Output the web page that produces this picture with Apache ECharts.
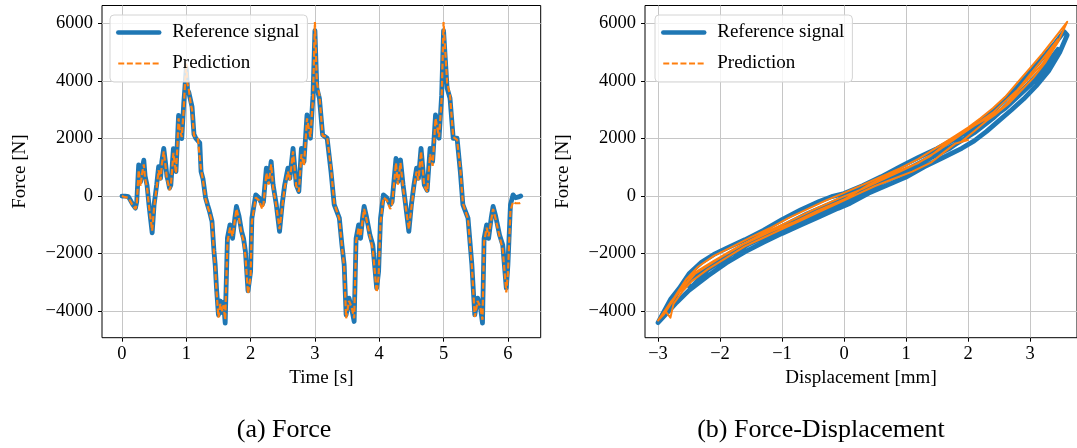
<!DOCTYPE html>
<html>
<head>
<meta charset="utf-8">
<script src="https://cdn.jsdelivr.net/npm/echarts@6/dist/echarts.min.js"></script>
<style>
html, body { margin: 0; padding: 0; background: #fff; }
#chart { width: 1077px; height: 448px; }
</style>
</head>
<body>
<div id="chart"></div>
<script>
// time knots [s]
const timeS = [
  0.00, 0.05, 0.10, 0.13, 0.17, 0.21, 0.23, 0.26, 0.29, 0.31, 0.34, 0.36, 0.39, 0.42, 0.47, 0.50,
  0.54, 0.57, 0.60, 0.62, 0.65, 0.68, 0.70, 0.72, 0.74, 0.76, 0.80, 0.84, 0.86, 0.88, 0.90, 0.93,
  0.96, 0.98, 1.00, 1.02, 1.04, 1.07, 1.09, 1.12, 1.15, 1.18, 1.21, 1.23, 1.26, 1.30, 1.33, 1.36,
  1.40, 1.43, 1.45, 1.47, 1.50, 1.53, 1.56, 1.58, 1.605, 1.64, 1.68, 1.72, 1.755, 1.78, 1.82, 1.86,
  1.89, 1.92, 1.96, 2.00, 2.02, 2.08, 2.13, 2.18, 2.20, 2.245, 2.28, 2.32, 2.35, 2.40, 2.45, 2.49,
  2.53, 2.58, 2.61, 2.66, 2.71, 2.75, 2.79, 2.83, 2.877, 2.93, 2.97, 3.00, 3.03, 3.07, 3.12, 3.19,
  3.25, 3.30, 3.38, 3.42, 3.455, 3.485, 3.53, 3.57, 3.61, 3.64, 3.68, 3.71, 3.74, 3.765, 3.80, 3.855,
  3.90, 3.96, 3.99, 4.02, 4.065, 4.12, 4.17, 4.20, 4.26, 4.29, 4.33, 4.37, 4.41, 4.46, 4.50, 4.54,
  4.58, 4.61, 4.65, 4.70, 4.745, 4.79, 4.83, 4.875, 4.93, 4.97, 5.00, 5.055, 5.10, 5.15, 5.21, 5.26,
  5.30, 5.38, 5.44, 5.485, 5.53, 5.57, 5.605, 5.63, 5.67, 5.70, 5.74, 5.77, 5.81, 5.87, 5.92, 5.975,
  6.00, 6.04, 6.08, 6.12, 6.18, 6.20
];
const refForce = [
  0, 0, -20, -60, -300, -420, -200, 1080, 500, 900, 1250, 700, 380, -300, -1280, -300,
  390, 1020, 620, 1200, 1660, 1100, 680, 500, 280, 380, 1650, 850, 1800, 2800, 2400, 2000,
  3200, 3800, 4450, 3700, 3600, 3300, 3100, 2150, 2000, 2050, 1850, 850, 600, -60, -300, -520,
  -880, -1900, -2400, -3200, -4130, -3650, -4050, -3700, -4420, -1460, -1000, -1470, -770, -360, -700, -1230,
  -1470, -1930, -3300, -2620, -770, 40, -60, -300, -200, 970, 500, 1200, 390, -300, -1230, -300,
  390, 970, 620, 1660, 390, 160, 1660, 1200, 2820, 2010, 3500, 5750, 3750, 3400, 2130, 2010,
  850, -300, -770, -1700, -2390, -4130, -3550, -3900, -4360, -1470, -1000, -1470, -770, -360, -700, -1350,
  -1700, -3200, -2620, -770, 40, -60, -300, -200, 1310, 500, 1260, 400, -300, -1230, -300, 390,
  970, 620, 1660, 390, 200, 1660, 1200, 2820, 2010, 3500, 5750, 3750, 3400, 2010, 2010, 850,
  -300, -770, -2390, -4130, -3550, -3800, -4420, -1470, -1000, -1470, -770, -360, -700, -1350, -1700, -3200,
  -2400, -300, 40, -60, -20, 0
];
const predForce = [
  0, -40, -60, -100, -330, -450, -300, 900, 350, 750, 1100, 600, 300, -350, -1200, -400,
  300, 900, 550, 1100, 1550, 1000, 600, 420, 200, 350, 1500, 800, 1650, 2700, 2300, 2050,
  3000, 3900, 4600, 3900, 3700, 3200, 3000, 2100, 2050, 2000, 2000, 900, 550, -100, -350, -550,
  -900, -1950, -2500, -3300, -4230, -3750, -4000, -3800, -4300, -1600, -1100, -1400, -850, -450, -800, -1300,
  -1550, -2100, -3400, -2800, -900, -50, -150, -450, -300, 800, 400, 1100, 300, -350, -1150, -400,
  300, 850, 550, 1550, 350, 150, 1450, 1050, 2700, 2050, 3400, 6050, 3950, 3500, 2100, 2050,
  950, -250, -800, -1750, -2450, -4250, -3650, -3850, -4250, -1600, -1100, -1400, -850, -450, -800, -1400,
  -1850, -3350, -2800, -900, -50, -150, -450, -300, 1150, 400, 1150, 300, -350, -1150, -400, 300,
  850, 550, 1550, 350, 150, 1450, 1050, 2700, 2050, 3400, 6050, 3950, 3500, 2050, 1950, 950,
  -250, -800, -2450, -4200, -3650, -3850, -4300, -1600, -1100, -1400, -850, -450, -800, -1400, -1850, -3350,
  -2700, -500, -200, -250, -250, -230
];

// force-displacement loops [mm, N]
const refLoop = [
  [-3.00, -4400], [-2.85, -3850], [-2.70, -3350], [-2.50, -2700], [-2.30, -2300], [-2.10, -2030],
  [-1.90, -1820], [-1.60, -1520], [-1.30, -1190], [-1.00, -820], [-0.70, -480], [-0.40, -190],
  [-0.20, -20], [0.00, 90], [0.30, 360], [0.60, 670], [0.90, 1010], [1.20, 1340], [1.50, 1650],
  [1.80, 2000], [2.00, 2270], [2.20, 2590], [2.40, 2950], [2.60, 3350], [2.80, 3800], [3.00, 4300],
  [3.20, 4800], [3.40, 5300], [3.55, 5720],
  [3.60, 5600], [3.48, 5000], [3.30, 4350], [3.10, 3830], [2.90, 3380], [2.70, 2990], [2.50, 2620],
  [2.30, 2250], [2.10, 1920], [1.90, 1660], [1.60, 1340], [1.30, 1020], [1.00, 660], [0.70, 380],
  [0.40, 100], [0.10, -250], [-0.10, -430], [-0.40, -720], [-0.70, -1010], [-1.00, -1300],
  [-1.30, -1610], [-1.60, -1940], [-1.90, -2330], [-2.20, -2780], [-2.50, -3280], [-2.70, -3700],
  [-2.85, -4050], [-3.00, -4400],
  [-2.80, -3600], [-2.60, -3050], [-2.45, -3150], [-2.20, -2560], [-1.80, -2000], [-1.40, -1500],
  [-1.00, -1060], [-0.60, -620], [-0.20, -250], [0.20, 130], [0.60, 520], [1.00, 900], [1.40, 1350],
  [1.80, 1800], [2.10, 2200], [2.40, 2700], [2.80, 3500], [3.20, 4400], [3.45, 5100],
  [3.30, 4550], [3.00, 3850], [2.60, 3050], [2.30, 2600], [2.10, 2350], [1.95, 2000], [1.88, 1920],
  [1.70, 1650], [1.40, 1330], [1.00, 850], [0.60, 470], [0.20, 0], [-0.20, -380], [-0.60, -800],
  [-1.00, -1160], [-1.40, -1530], [-1.80, -1950], [-2.20, -2480], [-2.50, -2950], [-2.65, -3200],
  [-2.75, -3600], [-2.90, -4000], [-3.00, -4400]
];
const predLoop = [
  [-3.00, -4330], [-2.85, -3900], [-2.70, -3400], [-2.55, -2900], [-2.35, -2450], [-2.10, -2080],
  [-1.80, -1760], [-1.50, -1430], [-1.20, -1120], [-0.90, -770], [-0.60, -460], [-0.30, -160],
  [0.00, 110], [0.30, 390], [0.60, 670], [0.90, 960], [1.20, 1290], [1.50, 1690], [1.80, 2100],
  [2.00, 2380], [2.20, 2700], [2.40, 3050], [2.60, 3450], [2.80, 3950], [3.00, 4450], [3.20, 4950],
  [3.40, 5500], [3.60, 6060],
  [3.45, 5350], [3.25, 4650], [3.05, 4100], [2.85, 3650], [2.65, 3200], [2.45, 2850], [2.30, 2620],
  [2.10, 2250], [1.90, 1900], [2.00, 1950], [1.80, 1830], [1.60, 1500], [1.40, 1160], [1.10, 850],
  [0.80, 600], [0.50, 350], [0.20, 50], [-0.10, -250], [-0.40, -550], [-0.70, -850], [-1.00, -1150],
  [-1.30, -1450], [-1.60, -1750], [-1.90, -2150], [-2.20, -2550], [-2.45, -2950], [-2.60, -3300],
  [-2.75, -3750], [-2.80, -4230], [-2.88, -4000], [-3.00, -4330],
  [-2.80, -3700], [-2.60, -3150], [-2.40, -2650], [-2.10, -2250], [-1.70, -1750], [-1.30, -1300],
  [-0.90, -900], [-0.50, -480], [-0.10, -100], [0.30, 250], [0.70, 650], [1.10, 1050], [1.40, 1400],
  [1.60, 1750], [2.00, 2300], [2.40, 2900], [2.80, 3700], [3.20, 4750], [3.45, 5450],
  [3.20, 4600], [2.90, 3900], [2.60, 3150], [2.35, 2750], [2.10, 2450], [1.80, 2000], [1.50, 1550],
  [1.20, 1150], [0.80, 800], [0.40, 400], [0.00, -120], [-0.40, -480], [-0.80, -900], [-1.20, -1250],
  [-1.60, -1650], [-2.00, -2150], [-2.40, -2700], [-2.70, -3450], [-2.90, -4100], [-3.00, -4330]
];

const timeTicks = [0, 1, 2, 3, 4, 5, 6];
const dispTicks = [-3, -2, -1, 0, 1, 2, 3];
const forceTicks = [-4000, -2000, 0, 2000, 4000, 6000];

const FONT = 'Liberation Serif';
const BLUE = '#1f77b4';
const ORANGE = '#ff7f0e';
const minus = v => (v < 0 ? '\u2212' + Math.abs(v) : String(v));
const zip = (xs, ys) => xs.map((x, i) => [x, ys[i]]);

function axis(gridIndex, min, max, step, ticks, name, isX) {
  return {
    type: 'value',
    gridIndex: gridIndex,
    min: min,
    max: max,
    minInterval: step,
    maxInterval: step,
    name: name,
    nameLocation: 'middle',
    nameGap: isX ? 28 : 72,
    nameTextStyle: { fontFamily: FONT, fontSize: 19, color: '#000' },
    axisLine: { show: false, onZero: false },
    axisTick: { show: true, inside: false, length: 4, customValues: ticks, lineStyle: { color: '#000', width: 1 } },
    axisLabel: {
      customValues: ticks,
      margin: isX ? 7 : 9,
      fontFamily: FONT,
      fontSize: 18.5,
      color: '#000',
      formatter: minus
    },
    splitLine: { show: true, lineStyle: { color: '#c6c6c6', width: 1 } }
  };
}

function legend(left) {
  return {
    left: left,
    top: 15,
    orient: 'vertical',
    selectedMode: false,
    itemWidth: 41,
    itemHeight: 14,
    itemGap: 12,
    padding: [8, 8, 9, 6],
    backgroundColor: 'rgba(255,255,255,0.8)',
    borderColor: '#d4d4d4',
    borderWidth: 1,
    borderRadius: 4,
    textStyle: { fontFamily: FONT, fontSize: 19, color: '#000', padding: [0, 0, 0, 8] },
    data: [
      { name: 'Reference signal', itemStyle: { opacity: 0 }, lineStyle: { width: 4.5, color: BLUE } },
      { name: 'Prediction', itemStyle: { opacity: 0 }, lineStyle: { width: 2.2, color: ORANGE, type: [6, 2.6] } }
    ]
  };
}

const chart = echarts.init(document.getElementById('chart'), null, { renderer: 'canvas' });

chart.setOption({
  animation: false,
  backgroundColor: '#fff',
  grid: [
    { left: 102, top: 5.5, width: 438.7, height: 332.2, show: true, borderColor: '#000', borderWidth: 1, containLabel: false },
    { left: 645, top: 5.5, width: 436, height: 332.2, show: true, borderColor: '#000', borderWidth: 1, containLabel: false }
  ],
  xAxis: [
    axis(0, -0.31, 6.51, 1, timeTicks, 'Time [s]', true),
    axis(1, -3.21, 3.758, 1, dispTicks, 'Displacement [mm]', true)
  ],
  yAxis: [
    axis(0, -4925, 6625, 2000, forceTicks, 'Force [N]', false),
    axis(1, -4925, 6625, 2000, forceTicks, 'Force [N]', false)
  ],
  legend: [legend(110), legend(655)],
  series: [
    {
      name: 'Reference signal', type: 'line', xAxisIndex: 0, yAxisIndex: 0,
      data: zip(timeS, refForce), symbol: 'none',
      lineStyle: { color: BLUE, width: 4.8, join: 'round', cap: 'round' }, itemStyle: { color: BLUE }
    },
    {
      name: 'Prediction', type: 'line', xAxisIndex: 0, yAxisIndex: 0,
      data: zip(timeS, predForce), symbol: 'none',
      lineStyle: { color: ORANGE, width: 2.2, type: [6, 2.6] }, itemStyle: { color: ORANGE }
    },
    {
      name: 'Reference signal', type: 'line', xAxisIndex: 1, yAxisIndex: 1,
      data: refLoop, symbol: 'none',
      lineStyle: { color: BLUE, width: 4.8, join: 'round', cap: 'round' }, itemStyle: { color: BLUE }
    },
    {
      name: 'Prediction', type: 'line', xAxisIndex: 1, yAxisIndex: 1,
      data: predLoop, symbol: 'none',
      lineStyle: { color: ORANGE, width: 2, join: 'round' }, itemStyle: { color: ORANGE }
    }
  ],
  graphic: [
    { type: 'text', x: 284, y: 430,
      style: { text: '(a) Force', fontFamily: FONT, fontSize: 26, fill: '#000', textAlign: 'center', textVerticalAlign: 'middle' } },
    { type: 'text', x: 821, y: 430,
      style: { text: '(b) Force-Displacement', fontFamily: FONT, fontSize: 26, fill: '#000', textAlign: 'center', textVerticalAlign: 'middle' } }
  ]
});
</script>
</body>
</html>
